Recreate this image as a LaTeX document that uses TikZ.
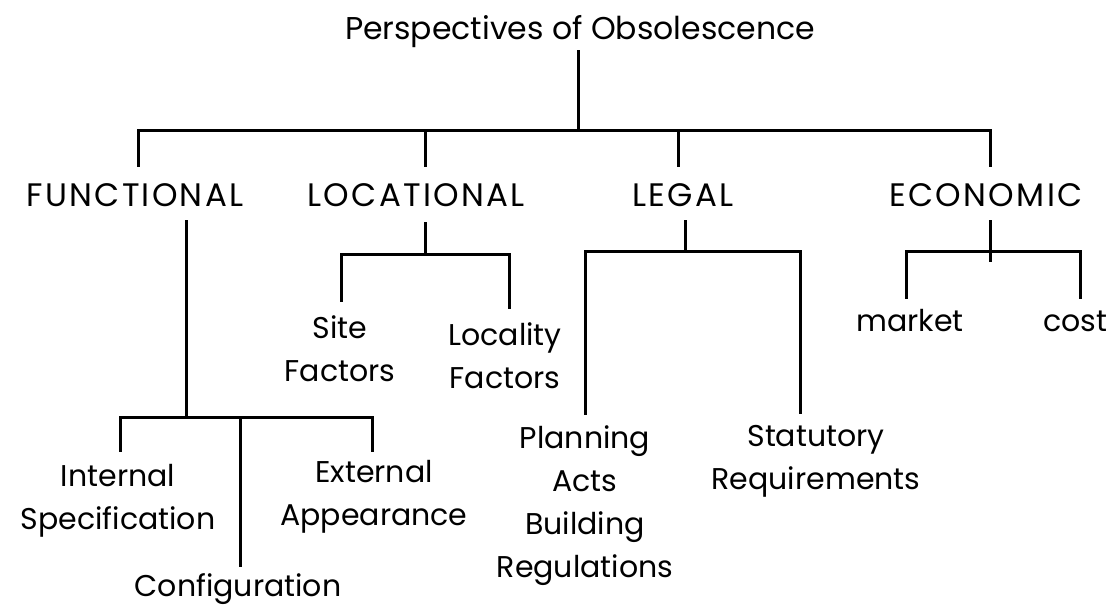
\documentclass[tikz,border=0pt]{standalone}
\usepackage{fontspec}
\setmainfont{Poppins}
\usetikzlibrary{calc}
\begin{document}
\begin{tikzpicture}[x=1pt,y=-1pt,
  lbl/.style={font=\fontsize{30}{43}\selectfont, align=center, inner sep=0pt, anchor=base},
  head/.style={lbl, font=\fontsize{32.5}{43}\selectfont\addfontfeatures{LetterSpace=7}},
  tree/.style={line width=3pt, line cap=rect, line join=miter}]
\useasboundingbox (0,0) rectangle (1115,609);

% labels (anchor=base sits on the last line of each label)
\node[lbl, font=\fontsize{31.5}{43}\selectfont] (root) at (580,40) {Perspectives of Obsolescence};
\node[head] (fun) at (135,207) {FUNCTIONAL};
\node[head] (loc) at (416,207) {LOCATIONAL};
\node[head] (leg) at (683,207) {LEGAL};
\node[head] (eco) at (986,207) {ECONOMIC};

\node[lbl] (site) at (340,381) {Site\\Factors};
\node[lbl] (lcty) at (505,388) {Locality\\Factors};
\node[lbl] (plan) at (585,577) {Planning\\Acts\\Building\\Regulations};
\node[lbl] (stat) at (816,489) {Statutory\\Requirements};
\node[lbl] (mkt) at (910,331) {market};
\node[lbl] (cost) at (1075,331) {cost};
\node[lbl] (intl) at (118,529) {Internal\\Specification};
\node[lbl] (extl) at (374,525) {External\\Appearance};
\node[lbl] (conf) at (238,596) {Configuration};

% junction points of the tree
\coordinate (rootJ) at (578,131);
\coordinate (funJ) at (186,417);
\coordinate (locJ) at (425,255);
\coordinate (legJ) at (685,252);
\coordinate (ecoJ) at (990,252);

% root branch
\draw[tree] (578,52) -- (rootJ);
\draw[tree] (138,166) |- (990,131) -- (990,166);
\draw[tree] (425,131) -- (425,166);
\draw[tree] (678,131) -- (678,166);

% functional branch
\draw[tree] (186,222) -- (funJ);
\draw[tree] (120,450) |- (372,417) -- (372,450);
\draw[tree] (240,417) -- (240,565);

% locational branch
\draw[tree] (425,224) -- (locJ);
\draw[tree] (341,300) |- (509,255) -- (509,307);

% legal branch
\draw[tree] (685,222) -- (legJ);
\draw[tree] (585,413) |- (800,252) -- (800,412);

% economic branch
\draw[tree] (990,222) -- (990,261);
\draw[tree] (906,297) |- (1080,252) -- (1080,297);
\end{tikzpicture}
\end{document}
